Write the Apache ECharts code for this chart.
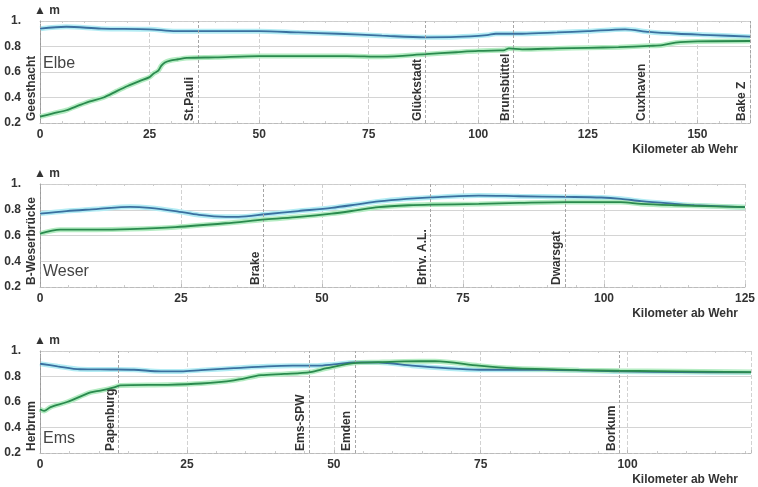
<!DOCTYPE html>
<html><head><meta charset="utf-8">
<script src="https://cdn.jsdelivr.net/npm/echarts@6/dist/echarts.min.js"></script>
<style>html,body{margin:0;padding:0;background:#fff}#c{width:758px;height:487px}</style>
</head><body><div id="c"></div>
<script>
// ---- Elbe ----
const elbeBlueKm  = [0, 6, 14, 25, 31, 40, 50, 59, 68, 78, 88, 95, 102, 104, 110, 118, 125, 133.5, 139, 145.5, 153, 162];
const elbeBlueVal = [0.94, 0.955, 0.94, 0.935, 0.92, 0.92, 0.92, 0.91, 0.90, 0.885, 0.872, 0.875, 0.89, 0.90, 0.90, 0.91, 0.92, 0.935, 0.914, 0.90, 0.89, 0.877];
const elbeGreenKm  = [0, 3, 6, 9, 11.4, 14.5, 17.5, 20, 22.8, 25, 26, 27, 27.7, 28.5, 29.7, 31.5, 33.5, 40, 50, 60, 70, 78, 88, 95, 100, 105, 106, 107, 110, 118, 125, 132, 139, 142, 145, 150, 162];
const elbeGreenVal = [0.25, 0.275, 0.30, 0.34, 0.37, 0.40, 0.45, 0.49, 0.53, 0.56, 0.59, 0.61, 0.65, 0.675, 0.69, 0.70, 0.71, 0.715, 0.725, 0.725, 0.725, 0.72, 0.74, 0.755, 0.765, 0.77, 0.772, 0.785, 0.778, 0.785, 0.79, 0.795, 0.805, 0.81, 0.83, 0.84, 0.843];
const elbeStations = ["Geesthacht", "St.Pauli", "Glückstadt", "Brunsbüttel", "Cuxhaven", "Bake Z"];
const elbeStationKm = [0, 36, 88, 108, 139, 162];
// ---- Weser ----
const weserBlueKm  = [0, 4.7, 10, 16, 19.4, 24, 28.2, 32.9, 35.2, 40, 45.8, 51.7, 56, 60, 65, 69.3, 77.8, 85, 93.2, 99.5, 103, 106.6, 112.5, 116, 125];
const weserBlueVal = [0.77, 0.79, 0.805, 0.823, 0.815, 0.79, 0.76, 0.745, 0.745, 0.765, 0.79, 0.815, 0.84, 0.865, 0.885, 0.896, 0.91, 0.905, 0.90, 0.895, 0.885, 0.867, 0.846, 0.835, 0.82];
const weserGreenKm  = [0, 3.6, 10, 16, 24, 32.9, 40, 46, 51.7, 56, 60, 65.4, 69.3, 77.8, 85, 93.2, 99.5, 103, 106.6, 112.5, 125];
const weserGreenVal = [0.615, 0.645, 0.645, 0.65, 0.665, 0.695, 0.725, 0.745, 0.77, 0.795, 0.82, 0.835, 0.84, 0.845, 0.853, 0.86, 0.86, 0.86, 0.845, 0.835, 0.82];
const weserStations = ["B-Weserbrücke", "Brake", "Brhv. A.L.", "Dwarsgat"];
const weserStationKm = [0, 39.6, 69.2, 93.1];
// ---- Ems ----
const emsBlueKm  = [0, 3, 6.8, 12, 16, 20.6, 24, 27.4, 33, 38.7, 43, 47.2, 50, 53.6, 57.6, 63.3, 69, 74.7, 86, 98.6, 108.8, 121];
const emsBlueVal = [0.90, 0.88, 0.857, 0.855, 0.853, 0.84, 0.84, 0.85, 0.865, 0.88, 0.885, 0.885, 0.895, 0.91, 0.91, 0.885, 0.865, 0.853, 0.853, 0.84, 0.835, 0.832];
const emsGreenKm  = [0, 0.7, 1.8, 4.6, 8.6, 10.3, 12.6, 13.7, 21.7, 27.4, 33, 37.6, 41.6, 46, 48.8, 53.4, 57.6, 62, 67.2, 74.7, 80.4, 91.7, 98.6, 121];
const emsGreenVal = [0.543, 0.53, 0.56, 0.60, 0.675, 0.69, 0.715, 0.73, 0.735, 0.745, 0.77, 0.81, 0.82, 0.835, 0.865, 0.905, 0.912, 0.918, 0.92, 0.885, 0.865, 0.85, 0.845, 0.835];
const emsStations = ["Herbrum", "Papenburg", "Ems-SPW", "Emden", "Borkum"];
const emsStationKm = [0, 13.4, 45.8, 53.6, 98.6];

const riverNames = ["Elbe", "Weser", "Ems"];
const xMax = [162, 125, 121];
const yTicks = [0.2, 0.4, 0.6, 0.8, 1.0];
const xLabel = "Kilometer ab Wehr";
const yUnit = "▲ m";

const rivers = [
  {blue:[elbeBlueKm, elbeBlueVal], green:[elbeGreenKm, elbeGreenVal], st:[elbeStations, elbeStationKm]},
  {blue:[weserBlueKm, weserBlueVal], green:[weserGreenKm, weserGreenVal], st:[weserStations, weserStationKm]},
  {blue:[emsBlueKm, emsBlueVal], green:[emsGreenKm, emsGreenVal], st:[emsStations, emsStationKm]}
];

const FONT = "Liberation Sans, Arial, sans-serif";
const gridPos = [
  {left:40, top:21, width:710, height:102},
  {left:40, top:184, width:710, height:103},
  {left:40, top:351, width:711, height:102}
];
const zip = (a, b) => a.map((v, i) => [v, b[i]]);

const grids = [], xAxes = [], yAxes = [], series = [], graphics = [];
rivers.forEach((r, i) => {
  grids.push(gridPos[i]);
  xAxes.push({
    type:'value', gridIndex:i, min:0, max:xMax[i], interval:25,
    axisLine:{show:true, lineStyle:{color:'#bbb', type:'dashed'}},
    axisTick:{show:true, inside:true, length:3, lineStyle:{color:'#bbb'}},
    minorTick:{show:true, splitNumber:5, length:2, lineStyle:{color:'#ccc'}},
    splitLine:{show:true, lineStyle:{color:'#d2d2d2', type:'dashed', width:1}},
    axisLabel:{color:'#333', fontFamily:FONT, fontWeight:'bold', fontSize:12, margin:6, showMaxLabel: xMax[i] % 25 === 0}
  });
  xAxes.push({
    type:'value', gridIndex:i, min:0, max:xMax[i], interval:25, position:'top',
    axisLine:{show:true, lineStyle:{color:'#ccc', type:'dashed'}},
    axisTick:{show:true, inside:true, length:3, lineStyle:{color:'#ccc'}},
    minorTick:{show:true, splitNumber:5, length:2, lineStyle:{color:'#ccc'}},
    splitLine:{show:false}, axisLabel:{show:false}
  });
  yAxes.push({
    type:'value', gridIndex:i, min:0.2, max:1.0, interval:0.2,
    axisLine:{show:true, lineStyle:{color:'#999', width:1}},
    axisTick:{show:false},
    splitLine:{show:true, lineStyle:{color:'#d4d4d4', width:1}},
    axisLabel:{color:'#333', fontFamily:FONT, fontWeight:'bold', fontSize:12, margin:19,
      formatter: v => Math.abs(v - 1) < 1e-9 ? '1.' : v.toFixed(1)}
  });
  const xi = i * 2;
  const mk = (d, color, width, z) => ({
    type:'line', xAxisIndex:xi, yAxisIndex:i, data:d, showSymbol:false, symbol:'none',
    smooth:0.3, lineStyle:{color, width}, z, silent:true, animation:false
  });
  const bd = zip(r.blue[0], r.blue[1]);
  const gd = zip(r.green[0], r.green[1]);
  series.push(mk(bd, '#b3ecf4', 5, 2));
  series.push(mk(gd, '#b4ecc2', 5, 2));
  series.push(mk(bd, '#3a70a0', 1.8, 4));
  const gs = mk(gd, '#2a8a4e', 1.8, 5);
  gs.markLine = {
    silent:true, symbol:'none', animation:false,
    lineStyle:{color:'#a6a6a6', type:[3, 2], width:1},
    label:{show:true, position:'insideStartTop', formatter:'{b}', color:'#333',
      fontFamily:FONT, fontWeight:'bold', fontSize:12, distance:2},
    data: r.st[0].map((n, k) => ({name:n, xAxis:r.st[1][k]}))
  };
  series.push(gs);
  const g = gridPos[i];
  graphics.push({type:'text', left:34, top:g.top - 16, style:{text:yUnit, fill:'#333', font:'bold 12px ' + FONT}});
  graphics.push({type:'text', left:43, top:g.top + (i === 0 ? 35 : 80), style:{text:riverNames[i], fill:'#444', font:'16px ' + FONT}});
  graphics.push({type:'text', right:758 - 738, top:g.top + g.height + 21, style:{text:xLabel, fill:'#333', font:'bold 12px ' + FONT}});
});

const chart = echarts.init(document.getElementById('c'), null, {renderer:'canvas'});
chart.setOption({
  animation:false, backgroundColor:'#fff',
  grid:grids, xAxis:xAxes, yAxis:yAxes, series, graphic:graphics
});
</script></body></html>
